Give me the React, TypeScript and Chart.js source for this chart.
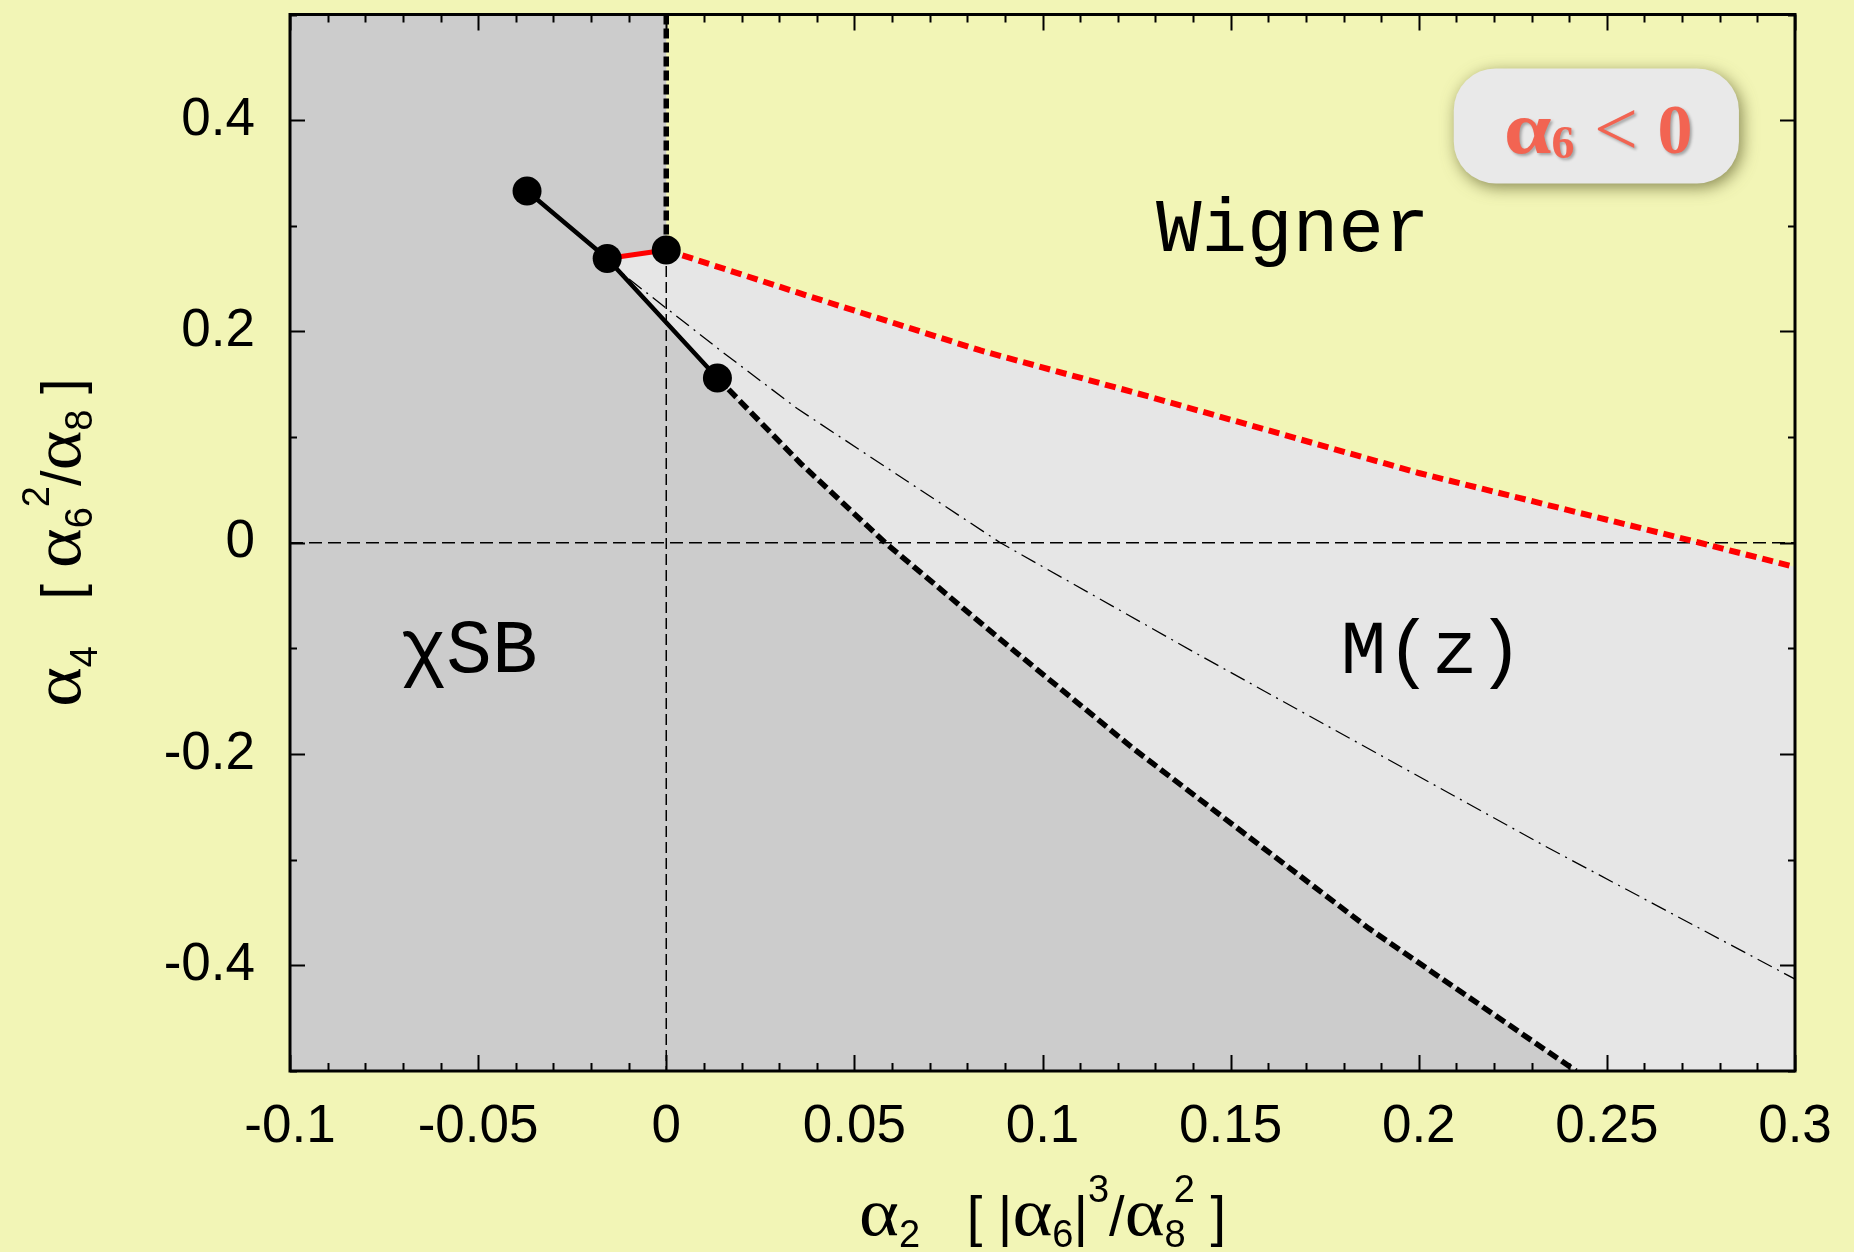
import { useEffect, useRef } from "react";
import { Chart, registerables } from "chart.js";

Chart.register(...registerables);

// Axis ranges
const X_MIN = -0.1;
const X_MAX = 0.3;
const Y_MIN = -0.5;
const Y_MAX = 0.5;

// Tick values and labels
const xTickValues = [-0.1, -0.05, 0, 0.05, 0.1, 0.15, 0.2, 0.25, 0.3];
const xTickLabels = ["-0.1", "-0.05", "0", "0.05", "0.1", "0.15", "0.2", "0.25", "0.3"];
const yTickValues = [-0.4, -0.2, 0, 0.2, 0.4];
const yTickLabels = ["-0.4", "-0.2", "0", "0.2", "0.4"];
const xMinorStep = 0.01;
const yMinorStep = 0.1;

// Special points (filled circles)
const pointX = [-0.037, -0.0157, 0, 0.0136];
const pointY = [0.333, 0.269, 0.277, 0.156];

// Lower boundary of the M(z) phase (black dashed)
const lowerX = [0.0136, 0.0356, 0.0582, 0.0888, 0.1242, 0.151, 0.1867, 0.2418];
const lowerY = [0.156, 0.0755, 0, -0.0915, -0.195, -0.268, -0.365, -0.5];

// Wigner boundary (red dashed)
const upperX = [0, 0.0356, 0.0835, 0.1287, 0.2, 0.2747, 0.3];
const upperY = [0.277, 0.236, 0.182, 0.138, 0.066, 0, -0.023];

// Inner dash-dot curve
const midX = [-0.0157, -0.0104, 0.0144, 0.0348, 0.0888, 0.142, 0.1867, 0.234, 0.3];
const midY = [0.269, 0.251, 0.182, 0.127, 0, -0.107, -0.195, -0.288, -0.413];

// Phase labels
const regionLabels = ["Wigner", "M(z)", "χSB"];
const regionLabelX = [0.1665, 0.2035, -0.0524];
const regionLabelY = [0.276, -0.123, -0.122];

const SANS = '"Liberation Sans", Arial, Helvetica, sans-serif';
const SERIF = '"Liberation Serif", "Times New Roman", serif';
const MONO = '"Liberation Mono", "Courier New", monospace';

const BG = "#f2f5b6";
const DARK = "#cccccc";
const LIGHT = "#e6e6e6";

type Pt = { x: number; y: number };
const zip = (xs: number[], ys: number[]): Pt[] => xs.map((x, i) => ({ x, y: ys[i] }));

// a run of text with its own font, vertical shift, horizontal nudge and stretch
type Seg = { t: string; f: string; dy?: number; dx?: number; sx?: number };

function drawRich(ctx: CanvasRenderingContext2D, segs: Seg[], x: number, y: number) {
  let w = 0;
  for (const s of segs) {
    ctx.font = s.f;
    w += ctx.measureText(s.t).width * (s.sx || 1) + (s.dx || 0);
  }
  let cx = x - w / 2;
  for (const s of segs) {
    ctx.font = s.f;
    cx += s.dx || 0;
    const sx = s.sx || 1;
    ctx.save();
    ctx.translate(cx, y + (s.dy || 0));
    ctx.scale(sx, 1);
    ctx.fillText(s.t, 0, 0);
    ctx.restore();
    cx += ctx.measureText(s.t).width * sx;
  }
}

const decorations = {
  id: "decorations",
  beforeDraw(chart: Chart) {
    const ctx = chart.ctx;
    ctx.save();
    ctx.fillStyle = BG;
    ctx.fillRect(0, 0, chart.width, chart.height);
    ctx.restore();
  },
  afterDatasetsDraw(chart: Chart) {
    const ctx = chart.ctx;
    const xs = chart.scales.x;
    const ys = chart.scales.y;
    ctx.save();
    // phase labels
    ctx.fillStyle = "#000";
    ctx.font = `76px ${MONO}`;
    ctx.textAlign = "center";
    ctx.textBaseline = "alphabetic";
    regionLabels.forEach((t, i) => {
      ctx.fillText(t, xs.getPixelForValue(regionLabelX[i]), ys.getPixelForValue(regionLabelY[i]));
    });

    // sign box in the upper right
    const bx0 = xs.getPixelForValue(0.2093);
    const bx1 = xs.getPixelForValue(0.2851);
    const by0 = ys.getPixelForValue(0.449);
    const by1 = ys.getPixelForValue(0.34);
    ctx.save();
    ctx.shadowColor = "rgba(100,100,50,0.75)";
    ctx.shadowBlur = 16;
    ctx.shadowOffsetX = 3;
    ctx.shadowOffsetY = 4;
    ctx.fillStyle = "#e9e9e9";
    ctx.beginPath();
    ctx.roundRect(bx0, by0, bx1 - bx0, by1 - by0, 42);
    ctx.fill();
    ctx.restore();

    ctx.save();
    ctx.shadowColor = "rgba(0,0,0,0.3)";
    ctx.shadowBlur = 3;
    ctx.shadowOffsetX = 2;
    ctx.shadowOffsetY = 2;
    ctx.fillStyle = "#f26452";
    ctx.textAlign = "left";
    drawRich(
      ctx,
      [
        { t: "α", f: `bold 74px ${SERIF}`, sx: 1.15 },
        { t: "6", f: `bold 46px ${SERIF}`, dy: 5 },
        { t: " < ", f: `78px ${SERIF}`, dy: 2 },
        { t: "0", f: `bold 70px ${SERIF}` },
      ],
      (bx0 + bx1) / 2 + 2,
      by0 + 85
    );
    ctx.restore();
    ctx.restore();
  },
  afterDraw(chart: Chart) {
    const ctx = chart.ctx;
    const xs = chart.scales.x;
    const ys = chart.scales.y;
    const { left, right, top, bottom } = chart.chartArea;
    ctx.save();
    ctx.strokeStyle = "#000";
    ctx.lineWidth = 2;
    ctx.beginPath();
    const nx = Math.round((X_MAX - X_MIN) / xMinorStep);
    for (let k = 0; k <= nx; k++) {
      const v = X_MIN + k * xMinorStep;
      const px = Math.round(xs.getPixelForValue(v)) + 0.5;
      const major = k % 5 === 0;
      const len = major ? 16 : 8;
      ctx.moveTo(px, bottom);
      ctx.lineTo(px, bottom - len);
      ctx.moveTo(px, top);
      ctx.lineTo(px, top + len);
    }
    const ny = Math.round((Y_MAX - Y_MIN) / yMinorStep);
    for (let k = 0; k <= ny; k++) {
      const v = Y_MIN + k * yMinorStep;
      const py = Math.round(ys.getPixelForValue(v)) + 0.5;
      const major = k % 2 === 1;
      const len = major ? 15 : 7;
      ctx.moveTo(left, py);
      ctx.lineTo(left + len, py);
      ctx.moveTo(right, py);
      ctx.lineTo(right - len, py);
    }
    ctx.stroke();
    ctx.lineWidth = 3;
    ctx.strokeRect(left, top, right - left, bottom - top);

    // axis titles
    ctx.fillStyle = "#000";
    ctx.textAlign = "left";
    ctx.textBaseline = "alphabetic";
    const A = `68px ${SERIF}`;
    const M = `56px ${SANS}`;
    const S = `38px ${SANS}`;
    const AS = 1.12;
    drawRich(
      ctx,
      [
        { t: "α", f: A, sx: AS },
        { t: "2", f: S, dy: 12 },
        { t: "   [ |", f: M },
        { t: "α", f: A, sx: AS },
        { t: "6", f: S, dy: 12 },
        { t: "|", f: M },
        { t: "3", f: S, dy: -33 },
        { t: "/", f: M },
        { t: "α", f: A, sx: AS },
        { t: "8", f: S, dy: 12 },
        { t: "2", f: S, dy: -33, dx: -12 },
        { t: " ]", f: M },
      ],
      (left + right) / 2,
      bottom + 164
    );
    ctx.translate(80, (top + bottom) / 2);
    ctx.rotate(-Math.PI / 2);
    drawRich(
      ctx,
      [
        { t: "α", f: A, sx: AS },
        { t: "4", f: S, dy: 17 },
        { t: "   [ ", f: M },
        { t: "α", f: A, sx: AS },
        { t: "6", f: S, dy: 12 },
        { t: "2", f: S, dy: -31 },
        { t: "/", f: M },
        { t: "α", f: A, sx: AS },
        { t: "8", f: S, dy: 12 },
        { t: " ]", f: M },
      ],
      0,
      0
    );
    ctx.restore();
  },
};

export default function App() {
  const ref = useRef<HTMLCanvasElement>(null);

  useEffect(() => {
    document.body.style.margin = "0";
    document.body.style.overflow = "hidden";
    const canvas = ref.current;
    if (!canvas) return;

    const P = zip(pointX, pointY);
    const lower = zip(lowerX, lowerY);
    const upper = zip(upperX, upperY);
    const mid = zip(midX, midY);

    const base = {
      pointRadius: 0,
      fill: false,
      tension: 0,
      clip: 0,
    };

    const chart = new Chart(canvas, {
      type: "line",
      data: {
        datasets: [
          {
            // phase points
            ...base,
            data: P,
            showLine: false,
            pointRadius: 14.5,
            pointBackgroundColor: "#000",
            pointBorderWidth: 0,
            clip: false,
          },
          {
            ...base,
            data: [P[0], P[1], P[3]],
            borderColor: "#000",
            borderWidth: 4.5,
            borderJoinStyle: "round",
          },
          {
            ...base,
            data: [P[1], P[2]],
            borderColor: "#ff0000",
            borderWidth: 5,
          },
          {
            ...base,
            data: lower,
            borderColor: "#000",
            borderWidth: 5.5,
            borderDash: [11, 5],
          },
          {
            ...base,
            data: upper,
            borderColor: "#ff0000",
            borderWidth: 6,
            borderDash: [11, 6],
          },
          {
            ...base,
            data: mid,
            borderColor: "#000",
            borderWidth: 1.3,
            borderDash: [16, 6, 2, 6],
          },
          {
            ...base,
            data: [
              { x: X_MIN, y: 0 },
              { x: X_MAX, y: 0 },
            ],
            borderColor: "#000",
            borderWidth: 1.5,
            borderDash: [13, 6],
          },
          {
            ...base,
            data: [P[2], { x: 0, y: Y_MIN }],
            borderColor: "#000",
            borderWidth: 1.5,
            borderDash: [11, 5],
          },
          {
            ...base,
            data: [{ x: 0, y: Y_MAX }, P[2]],
            borderColor: "#000",
            borderWidth: 5.5,
            borderDash: [10, 4],
          },
          {
            // chiral symmetry broken region
            ...base,
            data: [{ x: X_MIN, y: Y_MAX }, { x: 0, y: Y_MAX }, P[2], P[1], ...lower],
            borderWidth: 0,
            borderColor: "rgba(0,0,0,0)",
            backgroundColor: DARK,
            fill: { value: Y_MIN },
          },
          {
            // M(z) region (under the Wigner boundary)
            ...base,
            data: [P[1], ...upper, { x: X_MAX, y: upperY[upperY.length - 1] }],
            borderWidth: 0,
            borderColor: "rgba(0,0,0,0)",
            backgroundColor: LIGHT,
            fill: { value: Y_MIN },
          },
        ],
      },
      options: {
        responsive: false,
        animation: false,
        devicePixelRatio: 1,
        events: [],
        layout: { padding: { left: 0, top: 13, right: 59, bottom: 0 } },
        plugins: {
          legend: { display: false },
          tooltip: { enabled: false },
          title: { display: false },
        },
        scales: {
          x: {
            type: "linear",
            min: X_MIN,
            max: X_MAX,
            grid: { display: false, drawTicks: false },
            border: { display: false },
            afterBuildTicks: (s: any) => {
              s.ticks = xTickValues.map((v) => ({ value: v }));
            },
            afterFit: (s: any) => {
              s.height = 181;
              s.paddingLeft = 0;
              s.paddingRight = 0;
            },
            ticks: {
              padding: 25,
              color: "#000",
              autoSkip: false,
              maxRotation: 0,
              font: { family: SANS, size: 53 },
              callback: (_v: any, i: number) => xTickLabels[i],
            },
          },
          y: {
            type: "linear",
            min: Y_MIN,
            max: Y_MAX,
            grid: { display: false, drawTicks: false },
            border: { display: false },
            afterBuildTicks: (s: any) => {
              s.ticks = yTickValues.map((v) => ({ value: v }));
            },
            afterFit: (s: any) => {
              s.width = 290;
              s.paddingTop = 0;
              s.paddingBottom = 0;
            },
            ticks: {
              padding: 35,
              color: "#000",
              autoSkip: false,
              font: { family: SANS, size: 53 },
              callback: (_v: any, i: number) => yTickLabels[i],
            },
          },
        },
      },
      plugins: [decorations],
    } as any);

    return () => chart.destroy();
  }, []);

  return (
    <div style={{ width: 1854, height: 1252 }}>
      <canvas
        ref={ref}
        width={1854}
        height={1252}
        style={{ display: "block", width: "1854px", height: "1252px" }}
      />
    </div>
  );
}
